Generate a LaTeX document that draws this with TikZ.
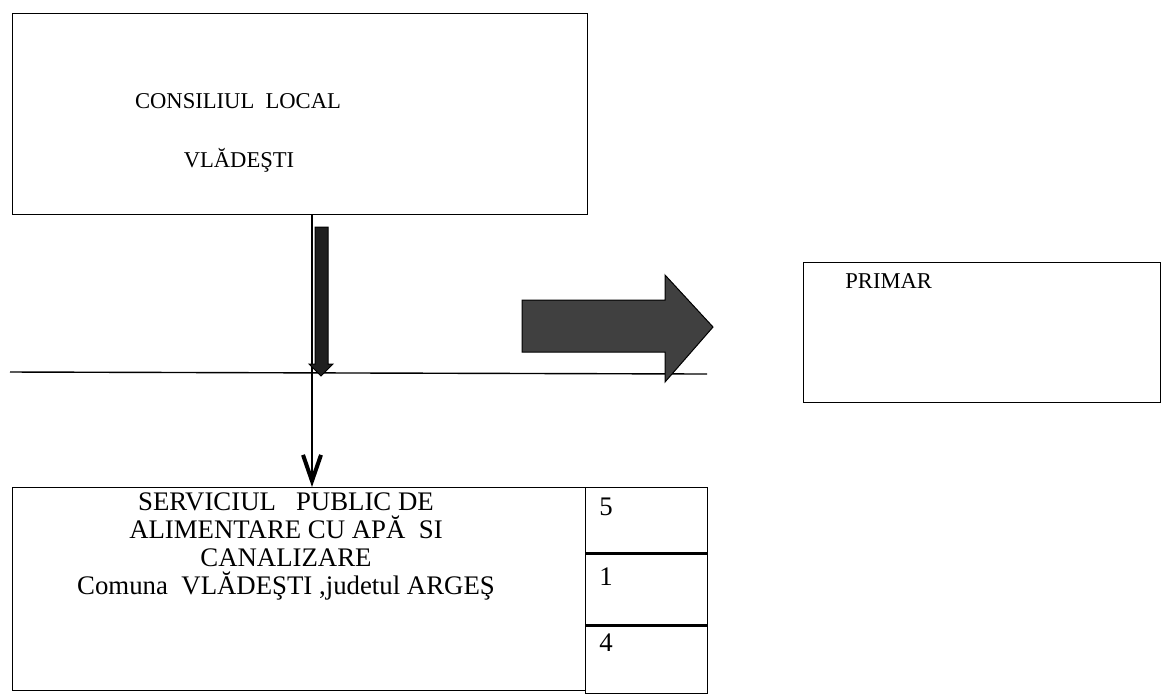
\documentclass[tikz,border=0pt]{standalone}
\usepackage{fontspec}
\setmainfont{Liberation Serif}
\usetikzlibrary{arrows.meta}
\tikzset{
	boxnode/.style = {
		rectangle,
		draw=black,
		line width=0.7pt,
		inner sep=0pt,
		anchor=north west
	},
	txtnode/.style = {
		inner sep=0pt,
		font=\fontsize{11.3}{15}\selectfont
	},
	bigtxt/.style = {
		inner sep=0pt,
		font=\fontsize{13.4}{14}\selectfont
	},
	numnode/.style = {
		bigtxt,
		anchor=base west
	},
	fatarrow/.style = {
		fill=black!75,
		draw=black,
		line width=0.5pt
	},
	link/.style = {
		draw=black,
		line width=0.7pt
	},
}

\begin{document}
\begin{tikzpicture}[x=0.5pt, y=-0.5pt]
\useasboundingbox (0,0) rectangle (1161,693);

% boxes
\node [boxnode, minimum width=287.5pt, minimum height=100.5pt] (consiliu) at (12,13) {};
\node [boxnode, minimum width=178.5pt, minimum height=70pt] (primar) at (803,262) {};
\node [boxnode, minimum width=286.5pt, minimum height=101.5pt] (serviciu) at (12,487) {};
\node [boxnode, minimum width=61pt, minimum height=32.5pt] (cell_a) at (585,487) {};
\node [boxnode, minimum width=61pt, minimum height=35.5pt] (cell_b) at (cell_a.south west) {};
\node [boxnode, minimum width=61pt, minimum height=33.5pt] (cell_c) at (cell_b.south west) {};

% texts
\node [txtnode, anchor=base] (t_consiliu) at (238,108) {CONSILIUL\ \ LOCAL};
\node [txtnode, anchor=base] (t_vladesti) at (239,167) {VLĂDEŞTI};
\node [txtnode, anchor=base west] (t_primar) at (845,288) {PRIMAR};
\node [bigtxt, anchor=north, align=center] (t_serviciu) at (286,492) {SERVICIUL\ \ \ PUBLIC DE\\ALIMENTARE CU APĂ\ \ SI\\CANALIZARE\\Comuna\ \ VLĂDEŞTI ,judetul ARGEŞ};
\node [numnode] (n_a) at (599,515) {5};
\node [numnode] (n_b) at (599,585) {1};
\node [numnode] (n_c) at (599,651) {4};

% rail
\coordinate (rail_l) at (10,372);
\coordinate (rail_r) at (707,374);
\draw [link] (rail_l) -- (rail_r);

% link down
\draw [link, -{Straight Barb[length=13pt, width=9pt, line width=2pt]}]
	([xshift=150pt]consiliu.south west) -- ([xshift=150pt]serviciu.north west);

% fat arrows
\fill [fatarrow, fill=black!88] (315,227) -- (328,227) -- (328,364) -- (333,364) -- (321,376)
	-- (309,364) -- (315,364) -- cycle;
\fill [fatarrow] (522,300) -- (665,300) -- (665,275) -- (713,327) -- (665,382)
	-- (665,352) -- (522,352) -- cycle;
\end{tikzpicture}
\end{document}
